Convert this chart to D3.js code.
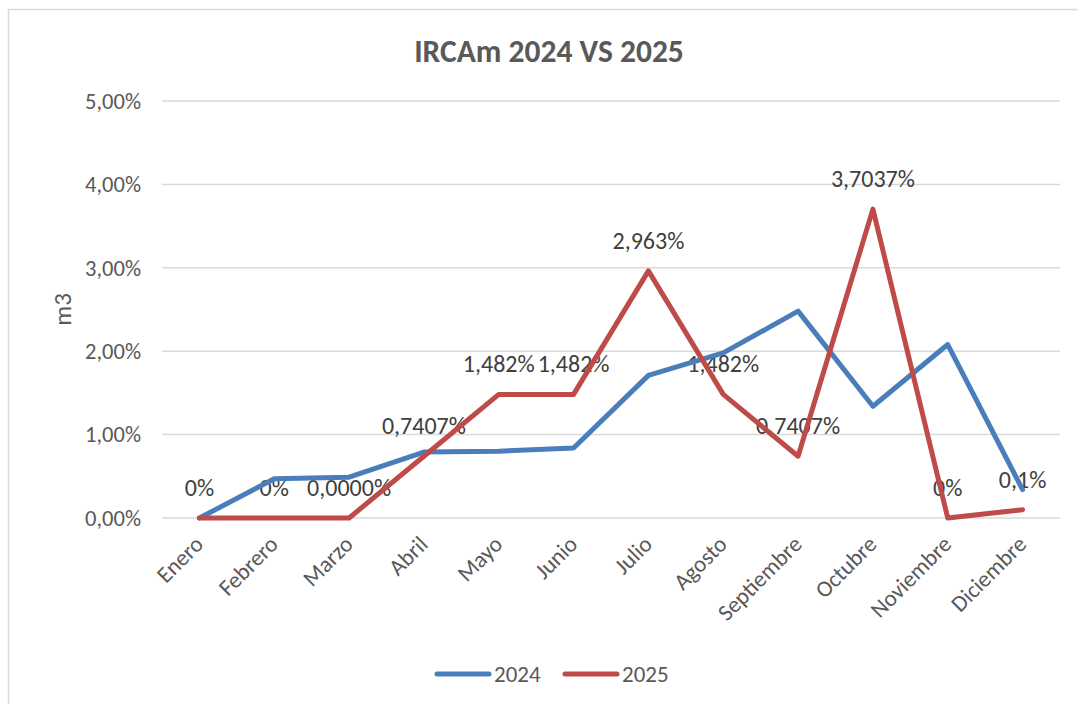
<!DOCTYPE html>
<html lang="es">
<head>
<meta charset="utf-8">
<title>IRCAm 2024 VS 2025</title>
<script src="https://cdn.jsdelivr.net/npm/d3@7"></script>
<style>
  body { margin: 0; background: #fff; font-family: Calibri, Lato, sans-serif; }
  .tick text { fill: #595959; }
  .lbl { fill: #404040; font-size: 24px; text-anchor: middle; }
</style>
</head>
<body>
<svg id="chart" width="1078" height="704"></svg>
<script>
// data
var months = ["Enero", "Febrero", "Marzo", "Abril", "Mayo", "Junio", "Julio",
              "Agosto", "Septiembre", "Octubre", "Noviembre", "Diciembre"];
var values2024 = [0, 0.0047, 0.0049, 0.0079, 0.0080, 0.0084, 0.0171,
                  0.0198, 0.0248, 0.0134, 0.0208, 0.0034];
var values2025 = [0, 0, 0, 0.007407, 0.01482, 0.01482, 0.02963,
                  0.01482, 0.007407, 0.037037, 0, 0.001];
var labels2025 = ["0%", "0%", "0,0000%", "0,7407%", "1,482%", "1,482%", "2,963%",
                  "1,482%", "0,7407%", "3,7037%", "0%", "0,1%"];
var yTicks = [0, 0.01, 0.02, 0.03, 0.04, 0.05];

var blue = "#4a7ebb", red = "#be4b48";
var font = "Calibri, Lato, sans-serif";

var svg = d3.select("#chart");

// chart frame
svg.append("rect")
    .attr("x", 8.5).attr("y", 9.5)
    .attr("width", 1100).attr("height", 720)
    .attr("fill", "#fff")
    .attr("stroke", "#d9d9d9").attr("stroke-width", 1.5);

var margin = { top: 101, right: 18, bottom: 186, left: 162 },
    width = 1078 - margin.left - margin.right,
    height = 704 - margin.top - margin.bottom;

var g = svg.append("g").attr("transform", "translate(" + margin.left + "," + margin.top + ")");

var x = d3.scalePoint().domain(months).range([0, width]).padding(0.5);
var y = d3.scaleLinear().domain([0, 0.05]).range([height, 0]);

// gridlines
g.append("g")
    .selectAll("line")
    .data(yTicks)
    .enter().append("line")
    .attr("x1", 0).attr("x2", width)
    .attr("y1", function (d) { return y(d); })
    .attr("y2", function (d) { return y(d); })
    .attr("stroke", "#d9d9d9").attr("stroke-width", 1.5);

// y axis
var yAxis = g.append("g")
    .call(d3.axisLeft(y).tickValues(yTicks).tickSize(0).tickPadding(21)
        .tickFormat(function (d) { return (d * 100).toFixed(2).replace(".", ",") + "%"; }));
yAxis.attr("font-family", font);
yAxis.select(".domain").remove();
yAxis.selectAll("text").style("font-size", "22.5px");

// x axis
var xAxis = g.append("g")
    .attr("transform", "translate(0," + height + ")")
    .call(d3.axisBottom(x).tickSize(0));
xAxis.attr("font-family", font);
xAxis.select(".domain").remove();
xAxis.selectAll("text")
    .style("font-size", "23px")
    .attr("text-anchor", "end")
    .attr("transform", "translate(-1,22) rotate(-45)")
    .attr("dy", "0.35em")
    .attr("y", 0);

// data labels (under the lines)
g.append("g")
    .selectAll("text")
    .data(values2025)
    .enter().append("text")
    .attr("class", "lbl")
    .attr("x", function (d, i) { return x(months[i]); })
    .attr("y", function (d) { return y(d) - 22; })
    .text(function (d, i) { return labels2025[i]; });

var line = d3.line()
    .x(function (d, i) { return x(months[i]); })
    .y(function (d) { return y(d); });

[[values2024, blue], [values2025, red]].forEach(function (s) {
    g.append("path")
        .datum(s[0])
        .attr("d", line)
        .attr("fill", "none")
        .attr("stroke", s[1])
        .attr("stroke-width", 5)
        .attr("stroke-linejoin", "round")
        .attr("stroke-linecap", "round");
});

// title
svg.append("text")
    .attr("x", 549).attr("y", 62)
    .attr("text-anchor", "middle")
    .style("font-size", "31.5px").style("font-weight", "bold")
    .attr("fill", "#595959")
    .text("IRCAm 2024 VS 2025");

// y axis title
svg.append("text")
    .attr("transform", "translate(71," + (margin.top + height / 2) + ") rotate(-90)")
    .attr("text-anchor", "middle")
    .style("font-size", "25px")
    .attr("fill", "#595959")
    .text("m3");

// legend
var legend = svg.append("g")
    .selectAll("g")
    .data([["2024", blue], ["2025", red]])
    .enter().append("g")
    .attr("transform", function (d, i) { return "translate(" + (437 + i * 128) + ",674)"; });
legend.append("line")
    .attr("x1", 0).attr("x2", 52)
    .attr("stroke", function (d) { return d[1]; })
    .attr("stroke-width", 5).attr("stroke-linecap", "round");
legend.append("text")
    .attr("x", 57).attr("dy", "0.35em")
    .style("font-size", "23px")
    .attr("fill", "#595959")
    .text(function (d) { return d[0]; });
</script>
</body>
</html>
